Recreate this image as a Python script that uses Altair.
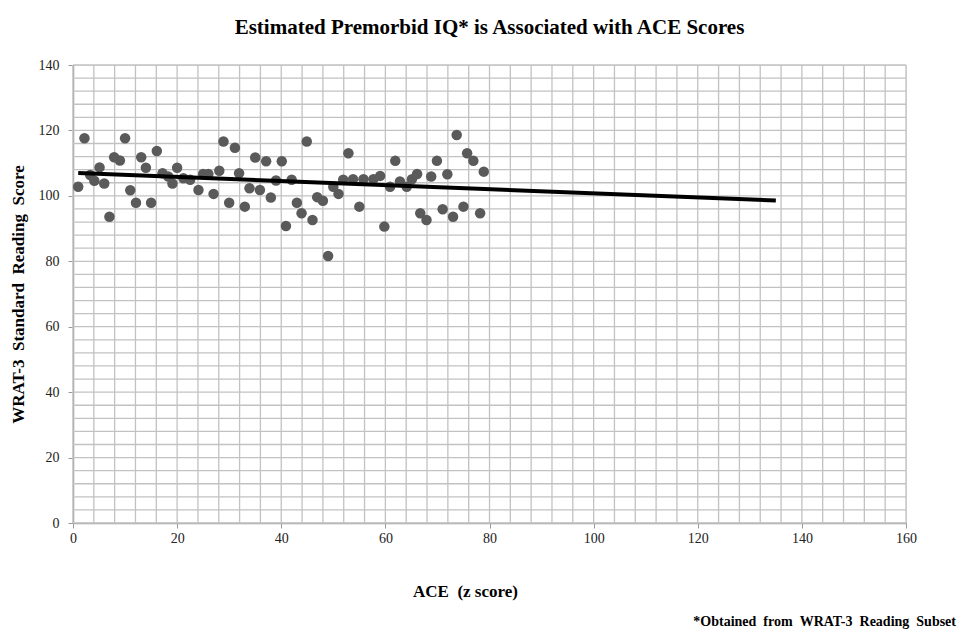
import altair as alt
import pandas as pd

ace = [1.0, 2.2, 3.3, 4.1, 5.1, 6.0, 7.0, 7.9, 9.0, 10.0, 11.0, 12.1, 13.1, 14.0, 15.0,
       16.1, 17.2, 18.3, 19.1, 20.0, 21.2, 22.5, 24.1, 25.0, 26.0, 27.0, 28.1, 28.9,
       30.0, 31.1, 31.9, 33.0, 33.9, 35.0, 35.9, 37.1, 38.0, 39.0, 40.1, 40.9, 42.0,
       43.0, 43.9, 44.9, 46.0, 46.9, 48.0, 49.0, 50.0, 51.0, 51.9, 52.9, 53.8, 55.0,
       55.8, 57.7, 59.0, 59.8, 60.9, 61.9, 62.8, 64.1, 65.1, 66.1, 66.7, 67.9, 68.8,
       69.9, 71.0, 71.9, 73.0, 73.7, 75.0, 75.7, 76.9, 78.2, 78.9]
wrat = [102.8, 117.6, 106.4, 104.6, 108.7, 103.8, 93.6, 111.8, 110.8, 117.6, 101.7,
        97.9, 111.8, 108.6, 97.9, 113.7, 106.9, 105.9, 103.8, 108.6, 105.4, 104.9,
        101.8, 106.7, 106.7, 100.6, 107.7, 116.6, 97.9, 114.7, 106.9, 96.7, 102.3,
        111.7, 101.8, 110.6, 99.5, 104.7, 110.6, 90.8, 104.9, 97.9, 94.7, 116.6, 92.6,
        99.6, 98.5, 81.6, 102.8, 100.6, 104.9, 113.0, 105.1, 96.7, 105.1, 105.1, 106.1,
        90.6, 102.8, 110.7, 104.4, 102.8, 105.1, 106.7, 94.7, 92.6, 105.9, 110.7, 95.9,
        106.6, 93.6, 118.6, 96.7, 113.0, 110.7, 94.7, 107.4]

trend_x = [1, 135]
trend_y = [107.0, 98.6]

x_ticks = [0, 20, 40, 60, 80, 100, 120, 140, 160]
y_ticks = [0, 20, 40, 60, 80, 100, 120, 140]
x_grid = list(range(0, 161, 4))
y_grid = list(range(0, 141, 4))

SP = "\u00a0\u00a0"
footnote = SP.join(["*Obtained", "from", "WRAT-3", "Reading", "Subset"])
x_title = "ACE" + SP + "(z" + "\u00a0" + "score)"
y_title = SP.join(["WRAT-3", "Standard", "Reading", "Score"])

pts = pd.DataFrame({"ace": ace, "wrat": wrat})
trend = pd.DataFrame({"ace": trend_x, "wrat": trend_y})
note = pd.DataFrame({"t": [footnote]})
gx = pd.DataFrame({"ace": x_grid})
gy = pd.DataFrame({"wrat": y_grid})

W, H = 833, 458
FONT = "Liberation Serif"
GRID = "#c2c2c2"
DOM = "#9a9a9a"

xaxis = alt.Axis(
    values=x_ticks, grid=False, labelOverlap=False,
    title=x_title, titlePadding=38, titleFontSize=17, titleFontWeight="bold",
    titleFont=FONT, titleColor="#000", titleX=392, titleAlign="center",
    labelFont=FONT, labelFontSize=14, labelColor="#222",
    domainColor=DOM, domainWidth=1.5, tickColor=DOM, tickSize=5, labelPadding=3,
    labelFlush=False,
)
yaxis = alt.Axis(
    values=y_ticks, grid=False, labelOverlap=False,
    title=y_title, titlePadding=11, titleFontSize=17,
    titleFontWeight="bold", titleFont=FONT, titleColor="#000", labelFont=FONT,
    labelFontSize=14, labelColor="#222",
    domainColor=DOM, domainWidth=1.5, tickColor=DOM, tickSize=5, labelPadding=9,
    labelFlush=False,
)

xs = alt.Scale(domain=[0, 160], nice=False)
ys = alt.Scale(domain=[0, 140], nice=False)

vgrid = alt.Chart(gx).mark_rule(color=GRID, strokeWidth=1.3).encode(
    x=alt.X("ace:Q", scale=xs, axis=xaxis), y=alt.value(0), y2=alt.value(H)
)
hgrid = alt.Chart(gy).mark_rule(color=GRID, strokeWidth=1.3).encode(
    y=alt.Y("wrat:Q", scale=ys, axis=yaxis), x=alt.value(0), x2=alt.value(W)
)
points = alt.Chart(pts).mark_circle(size=110, color="#5a5a5a", opacity=1).encode(
    x=alt.X("ace:Q", scale=xs),
    y=alt.Y("wrat:Q", scale=ys),
)
line = alt.Chart(trend).mark_line(color="#000", strokeWidth=4).encode(
    x="ace:Q", y="wrat:Q"
)
text = alt.Chart(note).mark_text(
    align="right", baseline="middle", font=FONT, fontSize=14, fontWeight="bold", color="#000"
).encode(x=alt.value(883), y=alt.value(557), text="t:N")

chart = alt.layer(vgrid, hgrid, points, line, text).properties(
    width=W, height=H,
    title=alt.TitleParams(
        "Estimated Premorbid IQ* is Associated with ACE Scores",
        font=FONT, fontSize=21, fontWeight="bold", color="#000", offset=20, anchor="middle",
    ),
    autosize=alt.AutoSizeParams(type="none"),
    padding={"left": 65, "top": 57, "right": 51, "bottom": 107},
).configure_view(stroke=None).configure(background="white")

chart.save("out.html", embed_options={"renderer": "svg", "actions": False})
